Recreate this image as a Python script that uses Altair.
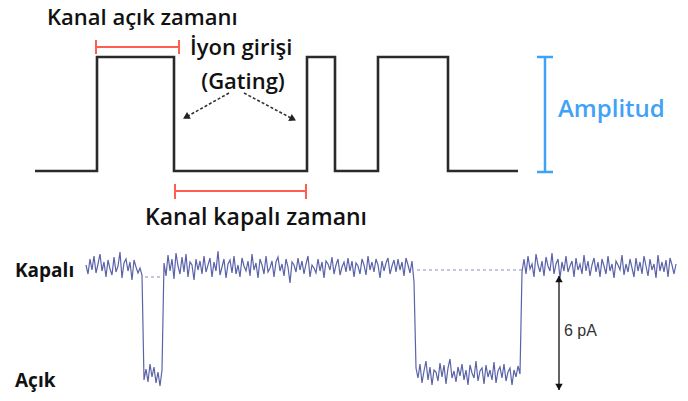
import altair as alt
import pandas as pd

# ---------------- data ----------------
# idealised gating square wave: transition times and the two levels
wave_edges = [35, 97, 174, 307, 335, 378, 448, 518]
wave_closed_level = 171
wave_open_level = 57

# single-channel recording: segments (start time, state) sampled every 2 units
trace_step = 2
trace_closed_level = 268
trace_open_level = 374
seg_starts = [86, 144, 164, 416, 522]
seg_states = ["closed", "open", "closed", "open", "closed"]
noise_a = [3, -6, 9, -2, 12, -5, 4, 14, -3, 6, -9, 8, -1, -7, 11, -4, 2, 16, -10, 5,
           9, -3, 6, -12, 8, 1, -5, 0, -7]
noise_b = [-6, 5, -8, 10, -3, 7, -9, 2, -12, 4]
noise_c = [5, -8, 13, -3, 9, -11, 15, 2, -6, 11, -4, 14, -9, 6, 3, -12, 9, -2, 7, -6,
           12, -4, 3, 10, -9, 6, -3, 17, -7, 1, 9, -10, 4, 8, -5, 12, -6, 3, -9, 10,
           2, -3, 7, -8, 14, -2, 5, -10, 9, 3, -6, 12, -4, 0, 7, -9, 6, 11, -3, 4,
           -8, 9, 1, -15, 6, 3, -4, 10, -2, 7, -6, 4, 12, -9, 3, 0, -5, 9, -3, 6,
           -10, 7, 4, -2, 11, -6, 3, 9, -7, 1, 6, -4, 10, -3, 7, -9, 5, 2, -6, 9,
           3, -7, 12, -2, 6, -4, 9, 3, -10, 7, -3, 5, 10, -6, 2, 8, -4, 9, -2, 6,
           -8, 10, 3, -5, 7, -14]
noise_d = [6, -4, 10, -9, 3, 13, -6, 7, -11, 4, 2, -7, 11, -3, 9, -10, 6, 15, -4, 3,
           -8, 7, -2, 10, -6, 4, -11, 9, 1, -4, 13, -7, 3, 6, -10, 9, -3, 4, -6, 12,
           -9, 3, 7, -4, 10, -7, 2, 6, -11, 4, -3, 8, 0]
noise_e = [-4, 9, -6, 12, -1, 4, -9, 14, 3, -4, 7, -8, 11, 2, -3, 15, -6, 4, 9, -10,
           6, -3, 12, -4, 2, 7, -9, 10, -2, 4, -6, 13, -3, 7, -8, 3, 10, -4, 6, -9,
           9, 2, -6, 12, -3, 4, -10, 7, 3, -2, 13, -7, 4, -4, 9, 0, -9, 10, -3, 6,
           -6, 12, 2, -8, 9, -2, 4, -10, 13, -3, 6, -4, 8, -9, 10, 3, -6, 4]
seg_noise = [noise_a, noise_b, noise_c, noise_d, noise_e]

# ---------------- build tables ----------------
wave_rows = []
levels = [wave_closed_level, wave_open_level]
state = 0
wave_rows.append((wave_edges[0], levels[0]))
for e in wave_edges[1:-1]:
    wave_rows.append((e, levels[state]))
    state = 1 - state
    wave_rows.append((e, levels[state]))
wave_rows.append((wave_edges[-1], levels[state]))
wave_df = pd.DataFrame([{"x": x, "y": y, "i": i} for i, (x, y) in enumerate(wave_rows)])

trace_rows = []
k = 0
for start, st, nz in zip(seg_starts, seg_states, seg_noise):
    base = trace_closed_level if st == "closed" else trace_open_level
    for j, v in enumerate(nz):
        trace_rows.append({"x": start + j * trace_step, "y": base - v, "i": k})
        k += 1
trace_df = pd.DataFrame(trace_rows)

# ---------------- scales ----------------
XS = alt.Scale(domain=[8, 680], nice=False, zero=False)
YS = alt.Scale(domain=[16, 393], nice=False, zero=False, reverse=True)


def X(v):
    return alt.X(datum=v, type="quantitative", scale=XS, axis=None)


def Y(v):
    return alt.Y(datum=v, type="quantitative", scale=YS, axis=None)


def hrule(x1, x2, y, color, w, dash=None):
    kw = {"color": color, "strokeWidth": w}
    if dash:
        kw["strokeDash"] = dash
    return alt.Chart().mark_rule(**kw).encode(x=X(x1), x2=alt.X2(datum=x2), y=Y(y))


def vrule(x, y1, y2, color, w, dash=None):
    kw = {"color": color, "strokeWidth": w}
    if dash:
        kw["strokeDash"] = dash
    return alt.Chart().mark_rule(**kw).encode(x=X(x), y=Y(y1), y2=alt.Y2(datum=y2))


def seg(x1, y1, x2, y2, color, w, dash=None):
    kw = {"color": color, "strokeWidth": w}
    if dash:
        kw["strokeDash"] = dash
    return alt.Chart().mark_rule(**kw).encode(
        x=X(x1), y=Y(y1), x2=alt.X2(datum=x2), y2=alt.Y2(datum=y2))


def head(x, y, angle, color, size=70):
    return alt.Chart().mark_point(shape="triangle-up", filled=True, opacity=1,
                                  color=color, size=size, angle=angle).encode(x=X(x), y=Y(y))


def label(txt, x, y, size, color="#111111", weight="normal", font="Open Sans", align="left"):
    return alt.Chart().mark_text(text=txt, align=align, baseline="alphabetic", fontSize=size,
                                 font=font, fontWeight=weight, color=color).encode(x=X(x), y=Y(y))


RED = "#ff5d4f"
BLUE = "#3fa2f7"
TRACE = "#5b63a8"
DOTS = "#8a8fb8"

wave = alt.Chart(wave_df).mark_line(color="#2a2a2a", strokeWidth=2.6, strokeJoin="miter").encode(
    x=alt.X("x:Q", scale=XS, axis=None), y=alt.Y("y:Q", scale=YS, axis=None), order="i:Q")

trace = alt.Chart(trace_df).mark_line(color=TRACE, strokeWidth=1.2).encode(
    x=alt.X("x:Q", scale=XS, axis=None), y=alt.Y("y:Q", scale=YS, axis=None), order="i:Q")

layers = [
    wave,
    # open-time bracket
    hrule(96, 179, 47, RED, 2), vrule(96, 40, 54, RED, 2), vrule(179, 40, 54, RED, 2),
    # closed-time bracket
    hrule(175, 306, 191, RED, 2), vrule(175, 184, 199, RED, 2), vrule(306, 184, 199, RED, 2),
    # amplitude bracket
    vrule(545, 57, 172, BLUE, 2.5), hrule(537, 553, 57, BLUE, 2.5), hrule(537, 553, 172, BLUE, 2.5),
    # gating arrows
    seg(229, 93, 188, 116, "#333333", 1.6, [3, 2]), head(186, 117, 241, "#222222", 60),
    seg(244, 93, 291, 118, "#333333", 1.6, [3, 2]), head(293, 119, 117.5, "#222222", 60),
    # dotted closed reference lines
    hrule(145, 161, 277, DOTS, 1.2, [3, 3]),
    hrule(417, 522, 270, DOTS, 1.2, [3, 3]),
    trace,
    # 6 pA arrow
    vrule(559, 276, 390, "#222222", 1.4), head(559, 279, 0, "#111111", 55), head(559, 387, 180, "#111111", 55),
    # labels
    label("Kanal açık zamanı", 47, 25, 22, weight=600),
    label("İyon girişi", 190, 55, 22, weight=600),
    label("(Gating)", 243, 89, 22, weight=600, align="center"),
    label("Kanal kapalı zamanı", 145, 225, 23, weight=600),
    label("Amplitud", 558, 117, 24, color=BLUE, weight=600),
    label("Kapalı", 15, 277, 19, weight="bold"),
    label("Açık", 15, 387, 19, weight="bold"),
    label("6 pA", 564, 336, 16, color="#333333", font="Liberation Sans"),
]

chart = alt.layer(*layers).properties(
    width=672, height=377, padding={"left": 0, "top": 8, "right": 0, "bottom": 0}, autosize="none"
).configure_view(stroke=None)

chart.save("out.html", embed_options={"renderer": "svg", "actions": False})
